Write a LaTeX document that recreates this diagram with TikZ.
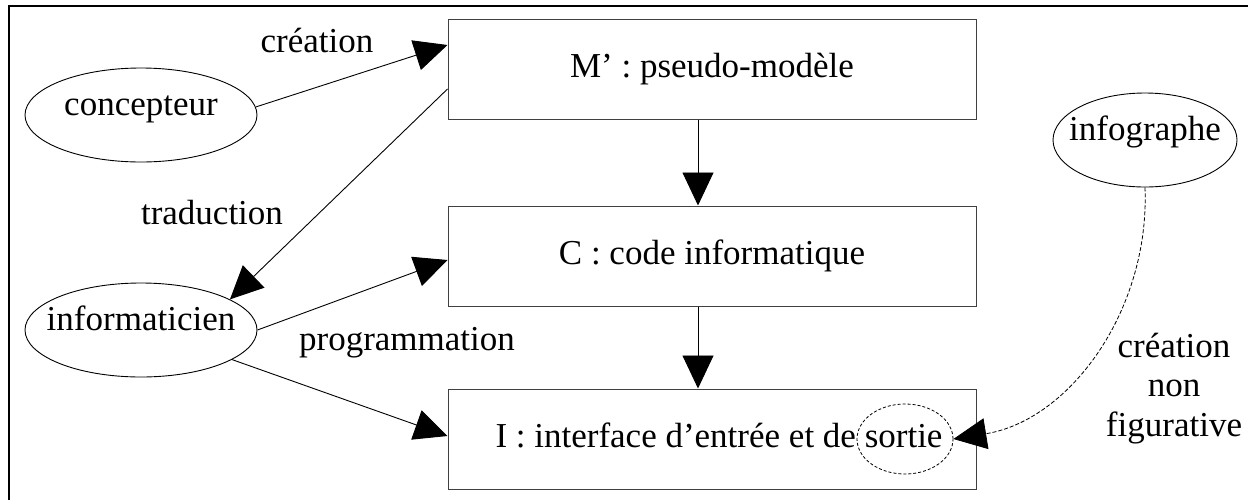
\documentclass[tikz,border=0pt]{standalone}
\usepackage{fontspec}
\setmainfont{Liberation Serif}
\usetikzlibrary{arrows.meta,shapes.geometric}
\begin{document}
\begin{tikzpicture}[x=1pt,y=-1pt,
  every node/.style={font=\fontsize{35}{39.5}\selectfont},
  box/.style={draw=black!75,line width=1pt,rectangle,minimum width=528pt,minimum height=100pt,inner sep=0pt,text height=24pt,text depth=8pt},
  ell/.style={draw,line width=0.9pt,ellipse,inner sep=0pt,text height=12pt,text depth=12pt},
  lbl/.style={anchor=base,inner sep=0pt},
  arr/.style={line width=0.9pt,-{Triangle[length=33pt,width=31pt]}},
  darr/.style={line width=0.8pt,dash pattern=on 4pt off 2pt,-{Triangle[length=33pt,width=31pt]}}
]
\useasboundingbox (0,0) rectangle (1248,499);
\draw[line width=2.7pt] (9,520) -- (9,6) -- (1270,6);

\node[box] (M) at (712,69) {M’ : pseudo-modèle};
\node[box] (C) at (712,256) {C : code informatique};
\node[box] (I) at (712,439) {\hspace*{14pt}I : interface d’entrée et de sortie};
\node[ell,dash pattern=on 3pt off 2pt,line width=0.8pt,minimum width=96pt,minimum height=70pt] (S) at (905,439) {};

\node[ell,minimum width=232pt,minimum height=94pt] (P) at (141,115) {\makebox[0pt]{concepteur}};
\node[ell,minimum width=232pt,minimum height=94pt] (F) at (141,330) {\makebox[0pt]{informaticien}};
\node[ell,minimum width=184pt,minimum height=94pt] (G) at (1145,140) {\makebox[0pt]{infographe}};

\node[lbl] (l1) at (317,52) {création};
\node[lbl] (l2) at (212,224) {traduction};
\node[lbl] (l3) at (407,350) {programmation};
\node[lbl,align=center] (l4) at (1174,436) {création\\non\\figurative};

\draw[arr] (P.4) -- ([yshift=24pt]M.west);
\draw[arr] ([yshift=-20pt]M.west) -- (F.19);
\draw[arr] (F.east) -- ([yshift=-4pt]C.west);
\draw[arr] (F.-18) -- ([yshift=3pt]I.west);
\draw[arr] ([xshift=-14pt]M.south) -- ([xshift=-14pt]C.north);
\draw[arr] ([xshift=-14pt]C.south) -- ([xshift=-14pt]I.north);
\draw[darr] (G.south) .. controls +(5,122) and +(117,-19) .. (S.east);
\end{tikzpicture}
\end{document}
